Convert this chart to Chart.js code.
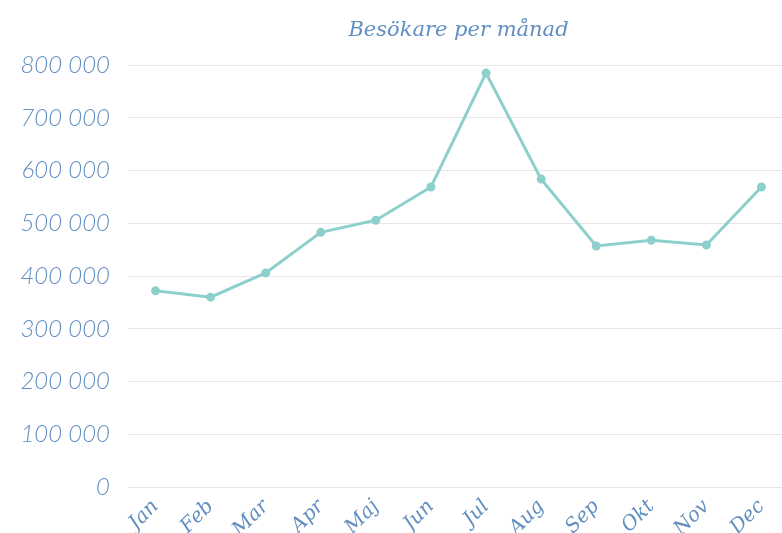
<!DOCTYPE html>
<html>
<head>
<meta charset="utf-8">
<script src="https://cdn.jsdelivr.net/npm/chart.js@4/dist/chart.umd.min.js"></script>
<style>
  html, body { margin: 0; padding: 0; overflow: hidden; background: #fff; }
  #wrap { width: 782px; height: 533px; overflow: hidden; }
</style>
</head>
<body>
<div id="wrap"><canvas id="besokChart" width="795" height="533"></canvas></div>
<script>
  const manader = ['Jan', 'Feb', 'Mar', 'Apr', 'Maj', 'Jun', 'Jul', 'Aug', 'Sep', 'Okt', 'Nov', 'Dec'];
  const besokare = [372000, 360000, 406000, 483000, 506000, 569000, 785000, 584000, 457000, 468000, 459000, 569000];
  const yMax = 800000;
  const yStep = 100000;

  const textColor = '#628fc0';
  const linjeFarg = '#8dd0cb';

  const ctx = document.getElementById('besokChart').getContext('2d');
  new Chart(ctx, {
    type: 'line',
    data: {
      labels: manader,
      datasets: [{
        label: 'Besökare',
        data: besokare,
        borderColor: linjeFarg,
        backgroundColor: linjeFarg,
        borderWidth: 3,
        pointRadius: 3,
        pointHoverRadius: 3,
        tension: 0,
        fill: false
      }]
    },
    options: {
      responsive: false,
      animation: false,
      layout: { padding: { left: 0, right: 2, top: 0, bottom: 0 } },
      plugins: {
        legend: { display: false },
        tooltip: { enabled: false },
        title: {
          display: true,
          fullSize: false,
          text: 'Besökare per månad',
          color: textColor,
          font: { family: 'DejaVu Serif', style: 'italic', size: 21, weight: 'normal', lineHeight: 1.2 },
          padding: { top: 18, bottom: 22 }
        }
      },
      scales: {
        x: {
          offset: true,
          grid: { display: false },
          border: { display: false },
          ticks: {
            color: textColor,
            font: { family: 'DejaVu Serif', style: 'italic', size: 20 },
            minRotation: 45,
            maxRotation: 45,
            padding: 0
          },
          afterFit: s => { s.height = 46; }
        },
        y: {
          min: 0,
          max: yMax,
          grid: { color: '#e6e6e6', lineWidth: 1, drawTicks: false },
          border: { display: false },
          ticks: {
            stepSize: yStep,
            color: textColor,
            padding: 18,
            font: { family: 'Lato', style: 'italic', weight: '300', size: 24 },
            callback: v => v.toLocaleString('sv-SE').replace(/\u00a0/g, ' ')
          },
          afterFit: s => { s.width = 128; }
        }
      }
    }
  });
</script>
</body>
</html>
